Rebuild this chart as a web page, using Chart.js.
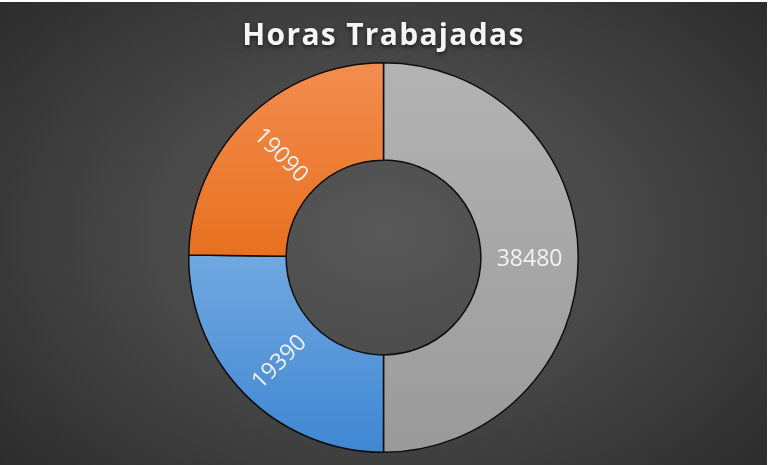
<!DOCTYPE html>
<html>
<head>
<meta charset="utf-8">
<script src="https://cdn.jsdelivr.net/npm/chart.js@4"></script>
<style>
    html, body { margin: 0; padding: 0; background: #ffffff; }
    #wrap {
        position: absolute; left: 0; top: 2px; width: 767px; height: 463px;
        background: radial-gradient(ellipse 68% 78% at 50% 50%, #585858 0%, #484848 45%, #2b2b2b 100%);
    }
</style>
</head>
<body>
<div id="wrap"><canvas id="chart" width="767" height="463"></canvas></div>
<script>
// values, clockwise from the top
const categories = ['Categoría 1', 'Categoría 2', 'Categoría 3'];
const hours = [38480, 19390, 19090];

// light (top) and dark (bottom) tone of each slice
const lightColors = ['#b3b3b3', '#70a8e0', '#f28d50'];
const darkColors = ['#9a9a9a', '#3f86d2', '#e8701e'];

function sliceFill(context) {
    const i = context.dataIndex;
    const area = context.chart.chartArea;
    if (!area) return darkColors[i];
    const cy = (area.top + area.bottom) / 2;
    // vertical extent of each slice: gray full height, blue bottom half, orange top half
    let y0 = area.top, y1 = area.bottom;
    if (i === 1) y0 = cy;
    if (i === 2) y1 = cy;
    const g = context.chart.ctx.createLinearGradient(0, y0, 0, y1);
    g.addColorStop(0, lightColors[i]);
    g.addColorStop(1, darkColors[i]);
    return g;
}

// labels at the middle of the ring, turned along the radius and kept upright
const ringLabels = {
    id: 'ring_labels',
    afterDatasetsDraw(chart) {
        const {ctx} = chart;
        const meta = chart.getDatasetMeta(0);
        ctx.save();
        ctx.font = '23px "Open Sans"';
        ctx.fillStyle = '#f2f2f2';
        ctx.textAlign = 'center';
        ctx.textBaseline = 'middle';
        meta.data.forEach((arc, i) => {
            const p = arc.getProps(['x', 'y', 'startAngle', 'endAngle', 'innerRadius', 'outerRadius']);
            const mid = (p.startAngle + p.endAngle) / 2;
            const r = (p.innerRadius + p.outerRadius) / 2;
            let rot = Math.atan2(Math.sin(mid), Math.cos(mid));
            if (rot > Math.PI / 2) rot -= Math.PI;
            if (rot < -Math.PI / 2) rot += Math.PI;
            ctx.save();
            ctx.translate(p.x + Math.cos(mid) * r, p.y + Math.sin(mid) * r + 2);
            ctx.rotate(rot);
            ctx.fillText(String(hours[i]), 0, 0);
            ctx.restore();
        });
        ctx.restore();
    }
};

// soft shadow and wider spacing for the title only (title is drawn before the datasets)
const titleStyle = {
    id: 'title_style',
    beforeDraw(chart) {
        const {ctx} = chart;
        ctx.shadowColor = 'rgba(0,0,0,0.6)';
        ctx.shadowBlur = 4;
        ctx.shadowOffsetY = 2;
        ctx.letterSpacing = '1.3px';
    },
    beforeDatasetsDraw(chart) {
        const {ctx} = chart;
        ctx.shadowColor = 'rgba(0,0,0,0)';
        ctx.shadowBlur = 0;
        ctx.shadowOffsetY = 0;
        ctx.letterSpacing = '0px';
    }
};

new Chart(document.getElementById('chart'), {
    type: 'doughnut',
    data: {
        labels: categories,
        datasets: [{
            data: hours,
            backgroundColor: sliceFill,
            borderColor: '#0d0d0d',
            borderWidth: 1.5,
            hoverOffset: 0
        }]
    },
    options: {
        responsive: false,
        animation: false,
        cutout: '50%',
        layout: {padding: {top: 0, bottom: 12, left: 0, right: 0}},
        plugins: {
            legend: {display: false},
            tooltip: {enabled: false},
            title: {
                display: true,
                text: 'Horas Trabajadas',
                color: '#f5f5f5',
                font: {family: '"Open Sans"', size: 30, weight: 'bold', lineHeight: 1.2},
                padding: {top: 16, bottom: 8}
            }
        }
    },
    plugins: [titleStyle, ringLabels]
});
</script>
</body>
</html>
